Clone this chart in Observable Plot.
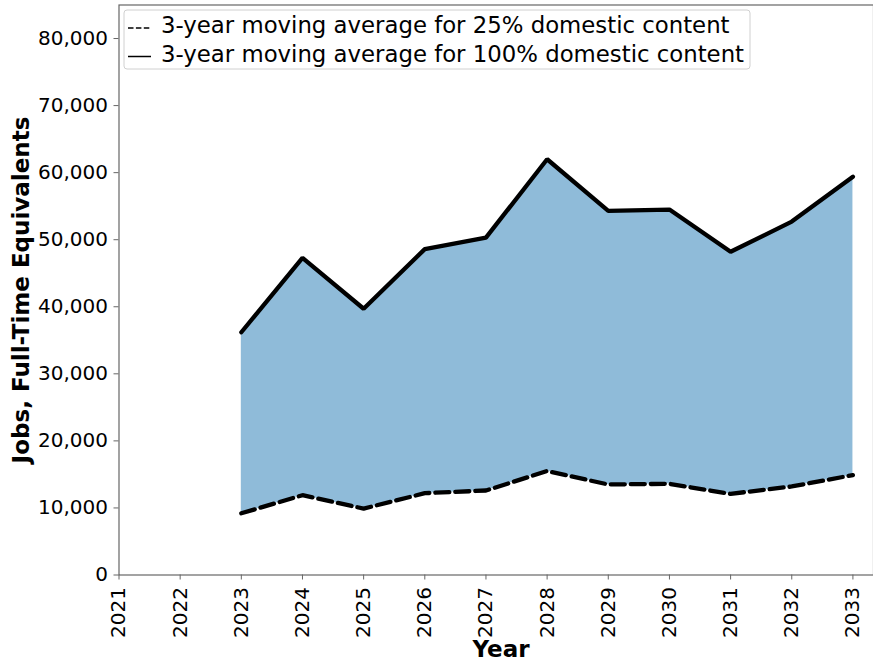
<!DOCTYPE html>
<html>
<head>
<meta charset="utf-8">
<script src="https://cdn.jsdelivr.net/npm/d3@7"></script>
<script src="https://cdn.jsdelivr.net/npm/@observablehq/plot@0.6"></script>
<style>
  html, body { margin: 0; padding: 0; background: #fff; }
  #chart svg { display: block; }
</style>
</head>
<body>
<div id="chart"></div>
<script>
const years = [2023, 2024, 2025, 2026, 2027, 2028, 2029, 2030, 2031, 2032, 2033];
const low25 = [9200, 11900, 9900, 12200, 12600, 15500, 13500, 13600, 12100, 13200, 14900];
const high100 = [36200, 47300, 39700, 48600, 50300, 62000, 54300, 54500, 48200, 52700, 59400];
const xTicks = [2021, 2022, 2023, 2024, 2025, 2026, 2027, 2028, 2029, 2030, 2031, 2032, 2033];
const yTicks = [0, 10000, 20000, 30000, 40000, 50000, 60000, 70000, 80000];
const legendLabels = [
  "3-year moving average for 25% domestic content",
  "3-year moving average for 100% domestic content"
];
const xLabel = "Year";
const yLabel = "Jobs, Full-Time Equivalents";

const data = years.map((y, i) => ({year: y, low: low25[i], high: high100[i]}));

const W = 873, H = 661;
const chart = Plot.plot({
  width: W,
  height: H,
  marginLeft: 118.5,
  marginTop: 4.5,
  marginRight: 0,
  marginBottom: 86.5,
  style: {fontFamily: "DejaVu Sans", fontSize: "20px", color: "#000", background: "#fff", overflow: "hidden"},
  x: {domain: [2021, 2033.5], range: [118.5, 883]},
  y: {domain: [0, 85000]},
  marks: [
    Plot.areaY(data, {x: "year", y1: "low", y2: "high", fill: "#1f77b4", fillOpacity: 0.5}),
    Plot.lineY(data, {x: "year", y: "high", stroke: "#000", strokeWidth: 4.3, strokeLinejoin: "miter"}),
    Plot.lineY(data, {x: "year", y: "low", stroke: "#000", strokeWidth: 4.3, strokeDasharray: "14,6", strokeLinejoin: "miter"}),
    Plot.frame({stroke: "#666", strokeWidth: 1.2}),
    Plot.axisX({ticks: xTicks, tickFormat: d => String(d), tickRotate: -90, tickSize: 5, tickPadding: 7, stroke: "#666", label: null, fontSize: 20}),
    Plot.axisY({ticks: yTicks, tickFormat: d3.format(","), tickSize: 5, tickPadding: 6, stroke: "#666", label: null, fontSize: 20})
  ]
});
document.getElementById("chart").appendChild(chart);

const svg = d3.select(chart);
// Axis titles
svg.append("text")
  .attr("x", 501).attr("y", 657)
  .attr("text-anchor", "middle")
  .attr("font-family", "DejaVu Sans").attr("font-weight", "bold").attr("font-size", 23)
  .attr("fill", "#000")
  .text(xLabel);
svg.append("text")
  .attr("transform", "translate(29,290) rotate(-90)")
  .attr("text-anchor", "middle")
  .attr("font-family", "DejaVu Sans").attr("font-weight", "bold").attr("font-size", 23)
  .attr("fill", "#000")
  .text(yLabel);

// Legend
const lg = svg.append("g");
lg.append("rect")
  .attr("x", 124).attr("y", 10).attr("width", 626).attr("height", 59)
  .attr("rx", 3).attr("fill", "#fff").attr("fill-opacity", 0.8)
  .attr("stroke", "#d0d0d0").attr("stroke-width", 1);
const rows = [{y: 28, dash: "5.5,2.4"}, {y: 56.5, dash: null}];
rows.forEach((r, i) => {
  const l = lg.append("line")
    .attr("x1", 128).attr("x2", 151).attr("y1", r.y).attr("y2", r.y)
    .attr("stroke", "#000").attr("stroke-width", 1.5);
  if (r.dash) l.attr("stroke-dasharray", r.dash);
  lg.append("text")
    .attr("x", 161).attr("y", r.y + 5)
    .attr("text-anchor", "start")
    .attr("font-family", "DejaVu Sans").attr("font-size", 22.8)
    .attr("fill", "#000")
    .text(legendLabels[i]);
});
</script>
</body>
</html>
